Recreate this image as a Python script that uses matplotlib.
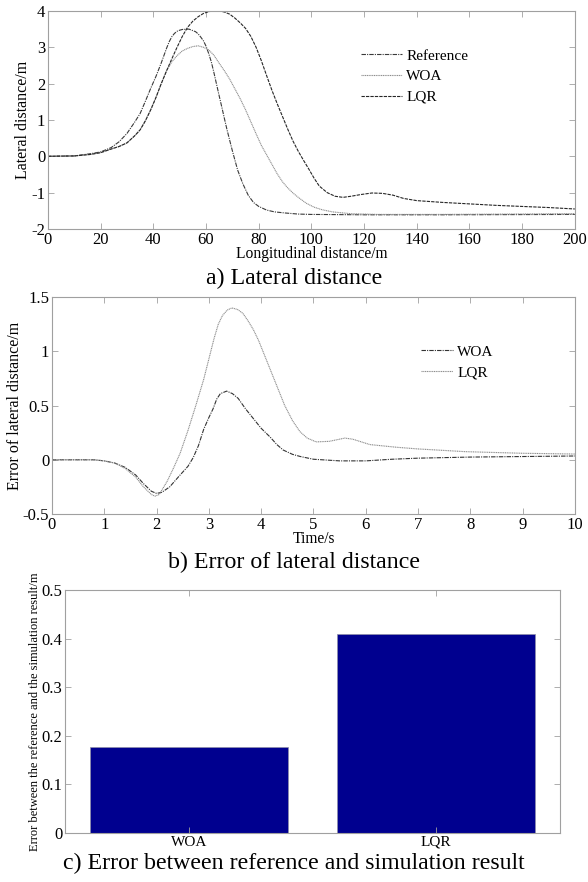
import numpy as np
import matplotlib
matplotlib.use("Agg")
import matplotlib.pyplot as plt
from matplotlib.ticker import FuncFormatter

plt.rcParams['font.family'] = ['Liberation Serif', 'DejaVu Serif']
plt.rcParams['axes.unicode_minus'] = False

# ---- a) lateral distance vs longitudinal distance
ref_x = [0, 10, 16, 20, 24, 27, 30, 33, 35, 37, 39, 41, 43, 45, 46, 47, 48, 49, 50, 51, 53.5, 56,
         57, 58, 59, 60, 61, 62, 63, 64, 65, 66, 67, 68, 70, 72, 74, 76, 78, 80, 83, 86, 90, 95,
         100, 120, 150, 200]
ref_y = [0, 0.01, 0.07, 0.12, 0.24, 0.4, 0.63, 0.95, 1.18, 1.52, 1.87, 2.2, 2.57, 2.97, 3.15, 3.29,
         3.38, 3.44, 3.47, 3.49, 3.5, 3.43, 3.37, 3.28, 3.18, 3.03, 2.83, 2.6, 2.3, 1.98, 1.66, 1.35,
         1.03, 0.72, 0.15, -0.38, -0.76, -1.07, -1.27, -1.38, -1.48, -1.53, -1.56, -1.59, -1.6,
         -1.61, -1.61, -1.6]

woa_x = [0, 10, 16, 20, 24, 27, 30, 33, 35, 37, 39, 41, 43, 45, 47, 49, 51, 53, 55, 57, 59, 61, 63, 65,
         67, 69, 71, 73, 75, 77, 79, 81, 83, 85, 87, 89, 91, 93, 95, 98, 101, 104, 108, 115, 125,
         150, 200]
woa_y = [0, 0.01, 0.05, 0.1, 0.2, 0.27, 0.37, 0.57, 0.73, 0.98, 1.28, 1.62, 2.0, 2.35, 2.6, 2.77, 2.9,
         2.97, 3.02, 3.04, 3.0, 2.93, 2.78, 2.56, 2.35, 2.12, 1.85, 1.58, 1.28, 0.95, 0.62, 0.3, 0.04,
         -0.22, -0.48, -0.7, -0.87, -1.01, -1.13, -1.29, -1.4, -1.47, -1.53, -1.58, -1.6, -1.6, -1.58]

lqr_x = [0, 10, 16, 20, 24, 27, 30, 33, 35, 37, 39, 41, 43, 45, 47, 49, 51, 53, 55, 57, 59, 61, 63, 65,
         67, 69, 71, 73, 75, 77, 79, 81, 83, 85, 87, 89, 91, 93, 95, 97, 99, 101, 103, 106, 109, 112,
         115, 119, 123, 127, 131, 135, 140, 150, 160, 170, 180, 190, 200]
lqr_y = [0, 0.01, 0.05, 0.1, 0.2, 0.27, 0.37, 0.57, 0.73, 0.98, 1.28, 1.62, 2.0, 2.35, 2.68, 3.0, 3.3,
         3.55, 3.72, 3.84, 3.93, 3.98, 4.0, 4.0, 3.97, 3.91, 3.8, 3.67, 3.52, 3.3, 3.0, 2.63, 2.22, 1.82,
         1.45, 1.1, 0.75, 0.42, 0.14, -0.11, -0.35, -0.6, -0.82, -1.0, -1.1, -1.13, -1.1, -1.05, -1.01,
         -1.02, -1.07, -1.16, -1.22, -1.27, -1.31, -1.35, -1.38, -1.41, -1.45]

# ---- b) error of lateral distance vs time
t_woa = [0, 0.8, 1.0, 1.2, 1.4, 1.6, 1.75, 1.9, 2.0, 2.1, 2.25, 2.45, 2.6, 2.7, 2.8, 2.9, 3.0, 3.08,
         3.15, 3.22, 3.34, 3.45, 3.56, 3.7, 3.85, 4.0, 4.17, 4.3, 4.42, 4.6, 4.75, 5.0, 5.5, 6.0, 6.5,
         7.0, 8.0, 9.0, 10.0]
e_woa = [0, 0, -0.01, -0.03, -0.07, -0.14, -0.22, -0.29, -0.31, -0.30, -0.25, -0.14, -0.06, 0.02,
         0.13, 0.28, 0.39, 0.47, 0.56, 0.61, 0.633, 0.61, 0.566, 0.47, 0.38, 0.29, 0.21, 0.14, 0.09,
         0.05, 0.03, 0.005, -0.01, -0.01, 0.005, 0.015, 0.025, 0.03, 0.035]

t_lqr = [0, 0.8, 1.0, 1.2, 1.4, 1.6, 1.75, 1.9, 1.97, 2.05, 2.2, 2.32, 2.45, 2.6, 2.75, 2.9, 3.0,
         3.1, 3.18, 3.26, 3.35, 3.44, 3.55, 3.65, 3.75, 3.85, 3.95, 4.05, 4.15, 4.3, 4.45, 4.6, 4.74,
         4.88, 5.05, 5.3, 5.6, 5.75, 6.08, 6.6, 7.0, 7.9, 9.0, 10.0]
e_lqr = [0, 0, -0.01, -0.03, -0.08, -0.16, -0.25, -0.32, -0.335, -0.32, -0.2, -0.08, 0.06, 0.27,
         0.5, 0.74, 0.93, 1.12, 1.25, 1.33, 1.38, 1.4, 1.385, 1.35, 1.28, 1.2, 1.1, 0.98, 0.86, 0.68,
         0.5, 0.36, 0.26, 0.2, 0.165, 0.17, 0.2, 0.19, 0.14, 0.115, 0.1, 0.075, 0.06, 0.053]

# ---- c) overall error
methods = ['WOA', 'LQR']
overall_err = [0.176, 0.41]

fig = plt.figure(figsize=(5.88, 8.82), dpi=100)
spine_c = '#a0a0a0'


def style(ax):
    for s in ax.spines.values():
        s.set_color(spine_c)
        s.set_linewidth(0.8)
    ax.tick_params(direction='in', length=4, width=0.6, color=spine_c,
                   top=True, right=True, labelsize=12, pad=2)
    ax.yaxis.set_major_formatter(FuncFormatter(lambda v, p: '%g' % round(v, 3)))


# a)
ax1 = fig.add_axes([0.0816, 0.7404, 0.896, 0.2472])
ax1.plot(ref_x, ref_y, color='#3a3a3a', lw=0.8, ls=(0, (4, 1, 1, 1)), label='Reference')
ax1.plot(woa_x, woa_y, color='#8c8c8c', lw=0.8, ls=(0, (1, 0.6)), label='WOA')
ax1.plot(lqr_x, lqr_y, color='#262626', lw=0.8, ls=(0, (3, 1)), label='LQR')
ax1.set_xlim(0, 200)
ax1.set_ylim(-2, 4)
ax1.set_xticks(np.arange(0, 201, 20))
ax1.set_yticks(np.arange(-2, 5, 1))
style(ax1)
ax1.set_xlabel('Longitudinal distance/m', fontsize=11.2, labelpad=-1)
ax1.set_ylabel('Lateral distance/m', fontsize=11.5, labelpad=0)
ax1.legend(loc='upper left', bbox_to_anchor=(0.58, 0.86), frameon=False, fontsize=11,
           handlelength=2.65, handletextpad=0.3, labelspacing=0.45, borderpad=0)
fig.text(0.5, 1 - 278 / 882, 'a) Lateral distance', ha='center', va='center', fontsize=17.2)

# b)
ax2 = fig.add_axes([0.0884, 0.4172, 0.8895, 0.246])
ax2.plot(t_woa, e_woa, color='#333333', lw=0.8, ls=(0, (4, 1, 1, 1)), label='WOA')
ax2.plot(t_lqr, e_lqr, color='#8c8c8c', lw=0.8, ls=(0, (1, 0.6)), label='LQR')
ax2.set_xlim(0, 10)
ax2.set_ylim(-0.5, 1.5)
ax2.set_xticks(np.arange(0, 11, 1))
ax2.set_yticks([-0.5, 0, 0.5, 1, 1.5])
style(ax2)
ax2.set_xlabel('Time/s', fontsize=11.2, labelpad=-1)
ax2.set_ylabel('Error of lateral distance/m', fontsize=11.5, labelpad=0)
ax2.legend(loc='upper left', bbox_to_anchor=(0.69, 0.815), frameon=False, fontsize=11,
           handlelength=2.1, handletextpad=0.3, labelspacing=0.45, borderpad=0)
fig.text(0.5, 1 - 562 / 882, 'b) Error of lateral distance', ha='center', va='center', fontsize=17.2)

# c)
ax3 = fig.add_axes([0.1105, 0.0556, 0.8418, 0.2755])
ax3.bar([1, 2], overall_err, width=0.8, color='#00008f', edgecolor='#9090a8', linewidth=0.5)
ax3.set_xlim(0.5, 2.5)
ax3.set_ylim(0, 0.5)
ax3.set_xticks([1, 2])
ax3.set_xticklabels(methods)
ax3.set_yticks(np.arange(0, 0.51, 0.1))
style(ax3)
ax3.tick_params(axis='x', labelsize=11)
ax3.set_ylabel('Error between the reference and the simulation result/m', fontsize=9, labelpad=0)
fig.text(0.5, 1 - 863 / 882, 'c) Error between reference and simulation result', ha='center',
         va='center', fontsize=17.2)

fig.savefig('out.png', dpi=100)
